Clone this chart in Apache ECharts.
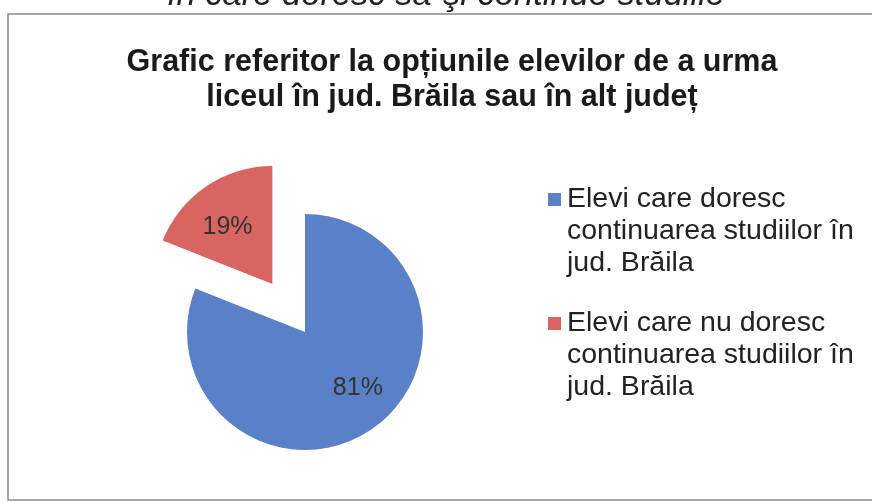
<!DOCTYPE html>
<html>
<head>
<meta charset="utf-8">
<script src="https://cdn.jsdelivr.net/npm/echarts@6/dist/echarts.min.js"></script>
<style>
html,body{margin:0;padding:0;background:#fff;}
#chart{width:872px;height:502px;}
</style>
</head>
<body>
<div id="chart"></div>
<script>
const titleText = 'Grafic referitor la opțiunile elevilor de a urma\nliceul în jud. Brăila sau în alt județ';
const headerText = 'în care doresc să-şi continue studiile';
const legendLines = [
  ['Elevi care doresc', 'continuarea studiilor în', 'jud. Brăila'],
  ['Elevi care nu doresc', 'continuarea studiilor în', 'jud. Brăila']
];
const categories = legendLines.map(l => l.join(' '));
const values = [81, 19];
const colors = ['#5a80c7', '#d86561'];
const labelShift = [[18, 5], [-10, -6]];

const chart = echarts.init(document.getElementById('chart'), null, {renderer: 'canvas'});
const rich = {
  t: {fontSize: 28.5, lineHeight: 32, color: '#222', fontFamily: 'Liberation Sans'},
  s: {width: 19, height: 13},
  g: {width: 6, height: 13}
};
colors.forEach((c, i) => { rich['m' + i] = {width: 13, height: 13, backgroundColor: c}; });

chart.setOption({
  backgroundColor: '#fff',
  animation: false,
  title: {
    text: titleText,
    left: 447,
    top: 40,
    textAlign: 'center',
    textStyle: {fontFamily: 'Liberation Sans', fontWeight: 'bold', fontSize: 30.5, lineHeight: 35, color: '#1a1a1a'}
  },
  graphic: [
    {type: 'rect', shape: {x: 8, y: 14, width: 900, height: 486}, style: {fill: 'none', stroke: '#8a8a8a', lineWidth: 1.5}, silent: true},
    {type: 'text', x: 446, y: -5, style: {text: headerText, fontFamily: 'Liberation Sans', fontStyle: 'italic', fontSize: 34.5, fill: '#222', align: 'center', verticalAlign: 'middle'}, silent: true}
  ],
  legend: {
    orient: 'vertical',
    left: 538,
    top: 180,
    itemGap: 31,
    itemWidth: 0,
    itemHeight: 14,
    itemStyle: {opacity: 0},
    selectedMode: false,
    data: categories,
    formatter: function (name) {
      const i = categories.indexOf(name);
      return legendLines[i].map((line, k) => (k === 0 ? '{m' + i + '|}{g|}' : '{s|}') + '{t|' + line + '}').join('\n');
    },
    textStyle: {rich: rich}
  },
  series: [{
    type: 'pie',
    center: [305, 332],
    radius: 118,
    startAngle: 90,
    clockwise: true,
    selectedMode: 'single',
    selectedOffset: 58,
    label: {
      show: true,
      position: 'inside',
      formatter: '{c}%',
      fontFamily: 'Liberation Sans',
      fontSize: 25,
      color: '#333'
    },
    labelLayout: function (p) {
      return {dx: labelShift[p.dataIndex][0], dy: labelShift[p.dataIndex][1]};
    },
    labelLine: {show: false},
    emphasis: {disabled: true},
    itemStyle: {borderWidth: 0},
    data: categories.map((n, i) => ({
      name: n,
      value: values[i],
      selected: i === 1,
      itemStyle: {color: colors[i]}
    }))
  }]
});
</script>
</body>
</html>
